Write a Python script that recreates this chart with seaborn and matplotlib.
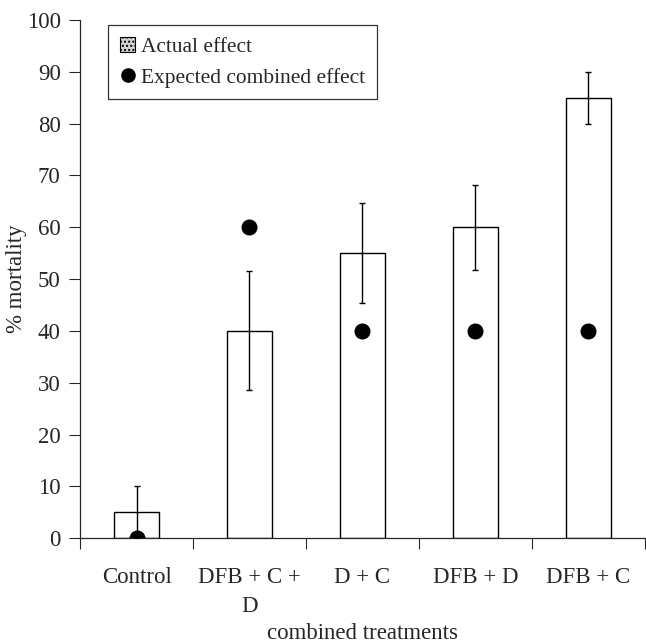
import matplotlib
matplotlib.use("Agg")
import matplotlib.pyplot as plt
from matplotlib.patches import Patch
from matplotlib.lines import Line2D
import seaborn as sns
import pandas as pd

# values
treatments = ["Control", "DFB + C +\nD", "D + C", "DFB + D", "DFB + C"]
actual_effect = [5, 40, 55, 60, 85]
actual_err = [5, 11.5, 9.7, 8.2, 5]
expected_effect = [0, 60, 40, 40, 40]

df = pd.DataFrame({"treatment": treatments,
                   "actual": actual_effect,
                   "expected": expected_effect})

sns.set_style("ticks")
plt.rcParams["font.family"] = ["Liberation Serif", "DejaVu Serif"]

fig = plt.figure(figsize=(6.46, 6.43), dpi=100)
ax = fig.add_axes([0.124, 0.163, 0.874, 0.806])

sns.barplot(data=df, x="treatment", y="actual", width=0.4,
            color="white", edgecolor="black", linewidth=1.0,
            errorbar=None, ax=ax, zorder=2)
ax.errorbar(range(len(treatments)), actual_effect, yerr=actual_err,
            fmt="none", ecolor="black", elinewidth=1.0, capsize=2.5,
            capthick=1.0, zorder=3)
sns.pointplot(data=df, x="treatment", y="expected", color="black",
              linestyle="none", markers="o", markersize=9.5, ax=ax)
for c in ax.collections:
    c.set_zorder(4)

ax.set_xlim(-0.5, len(treatments) - 0.5)
ax.set_ylim(0, 100)
ax.set_yticks(range(0, 101, 10))
ax.tick_params(axis="y", labelsize=16.5, length=8, width=0.8,
               direction="out", pad=6)

# x ticks sit on the category boundaries, labels at the centres
ax.set_xticks([i - 0.5 for i in range(len(treatments) + 1)])
ax.set_xticklabels([])
ax.set_xticks(range(len(treatments)), labels=treatments, minor=True)
ax.tick_params(axis="x", which="major", length=8, width=0.8, direction="out")
ax.tick_params(axis="x", which="minor", length=0, pad=21, labelsize=16.5)
for lab in ax.get_xticklabels(minor=True):
    lab.set_verticalalignment("top")
    lab.set_linespacing(1.45)

sns.despine(ax=ax)
for s in ["left", "bottom"]:
    ax.spines[s].set_linewidth(0.9)

ax.set_xlabel("combined treatments", fontsize=16.5)
ax.xaxis.set_label_coords(0.5, -0.163)
ax.set_ylabel("% mortality", fontsize=16.5)
ax.yaxis.set_label_coords(-0.094, 0.5)

handles = [Patch(facecolor="#d2d2d2", edgecolor="black", hatch="....",
                 linewidth=0.8, label="Actual effect"),
           Line2D([], [], linestyle="none", marker="o", color="black",
                  markersize=9.5, label="Expected combined effect")]
leg = ax.legend(handles=handles, loc="upper left",
                bbox_to_anchor=(0.05, 0.99), borderaxespad=0, fontsize=15.4,
                frameon=True, fancybox=False, handlelength=0.7,
                handleheight=0.7, handletextpad=0.3, labelspacing=0.5,
                borderpad=0.55)
leg.get_frame().set_edgecolor("black")
leg.get_frame().set_linewidth(0.9)

fig.savefig("out.png", dpi=100)
